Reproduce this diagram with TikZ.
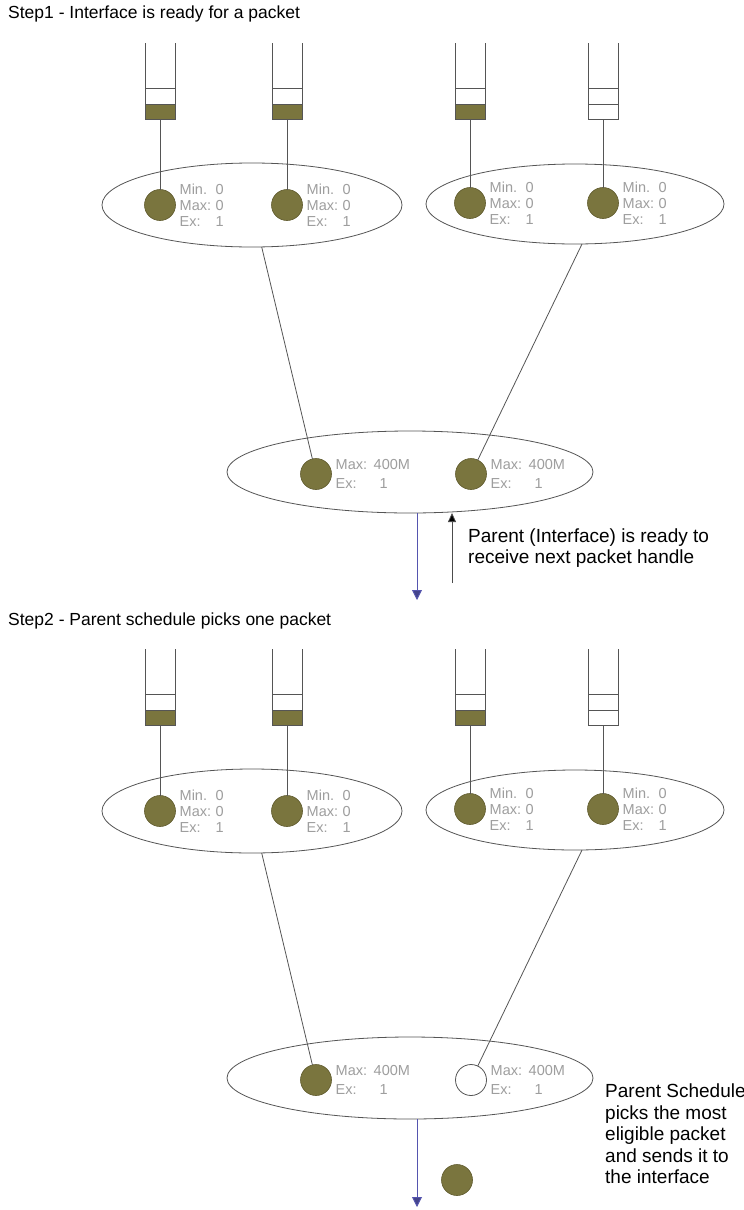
\documentclass[tikz,border=0pt]{standalone}
\usepackage{fontspec}
\setmainfont{Liberation Sans}
\usetikzlibrary{shapes.geometric,arrows.meta}
\definecolor{olivefill}{RGB}{122,117,62}
\definecolor{olivedraw}{RGB}{95,90,45}
\definecolor{linegray}{RGB}{85,85,85}
\definecolor{lblgray}{RGB}{158,158,158}
\definecolor{arrowblue}{RGB}{85,85,175}
\newcommand\lv[3][36pt]{\makebox[#1][l]{#2}#3}
\tikzset{
  line/.style={draw=linegray, line width=0.8pt},
  oval/.style={ellipse, draw=linegray, line width=0.8pt, inner sep=0pt, outer sep=0pt},
  pkt/.style={circle, fill=olivefill, draw=olivedraw, line width=0.6pt, minimum size=31pt, inner sep=0pt, outer sep=0pt},
  emptypkt/.style={circle, fill=white, draw=linegray, line width=0.8pt, minimum size=31pt, inner sep=0pt, outer sep=0pt},
  slotfull/.style={rectangle, fill=olivefill, draw=linegray, line width=0.8pt, minimum width=30pt, minimum height=15pt, inner sep=0pt, outer sep=0pt},
  slotempty/.style={rectangle, fill=white, draw=linegray, line width=0.8pt, minimum width=30pt, minimum height=15pt, inner sep=0pt, outer sep=0pt},
  lbl/.style={anchor=west, inner sep=0pt, text=lblgray, font=\fontsize{14.5}{16}\selectfont, align=left},
  lblb/.style={anchor=west, inner sep=0pt, text=lblgray, font=\fontsize{14.5}{18.5}\selectfont, align=left},
  note/.style={anchor=west, inner sep=0pt, font=\fontsize{19}{21.5}\selectfont, align=left},
  titletext/.style={anchor=west, inner sep=0pt, font=\fontsize{17.5}{20}\selectfont},
  blueflow/.style={draw=arrowblue, line width=0.9pt, -{Triangle[length=10pt,width=10pt,fill=arrowblue!80!black]}},
  readyflow/.style={draw=black!70, line width=0.8pt, -{Triangle[length=9pt,width=8pt,fill=black]}}
}
% #1 prefix, #2 x centre, #3 slot style
\newcommand\drawqueue[3]{%
  \draw[line] (#2-15,43) -- (#2-15,119) -- (#2+15,119) -- (#2+15,43);
  \draw[line] (#2-15,88) -- (#2+15,88);
  \node[#3] (#1) at (#2,111.5) {};
}
% #1 prefix, #2 style of right lower circle
\newcommand\stage[2]{%
  \drawqueue{#1q1}{160}{slotfull}
  \drawqueue{#1q2}{287}{slotfull}
  \drawqueue{#1q3}{470}{slotfull}
  \drawqueue{#1q4}{603}{slotempty}
  \node[oval, minimum width=300pt, minimum height=84pt] (#1eL) at (252,205) {};
  \node[oval, minimum width=298pt, minimum height=80pt] (#1eR) at (575,204) {};
  \node[oval, minimum width=366pt, minimum height=82pt] (#1eB) at (410,472) {};
  \node[pkt] (#1c1) at (160,205) {};
  \node[pkt] (#1c2) at (287,205) {};
  \node[pkt] (#1c3) at (470,203) {};
  \node[pkt] (#1c4) at (603,203) {};
  \node[pkt] (#1d1) at (316,474) {};
  \node[#2] (#1d2) at (471,474) {};
  \foreach \c in {c1,c2,c3,c4}{
    \node[lbl] (#1l\c) at ([xshift=4pt]#1\c.east) {\lv{Min.}{0}\\\lv{Max:}{0}\\\lv{Ex:}{1}};
  }
  \foreach \c in {d1,d2}{
    \node[lblb] (#1l\c) at ([xshift=4pt]#1\c.east) {\lv[38pt]{Max:}{400M}\\\lv[44pt]{Ex:}{1}};
  }
  \draw[line] (#1q1) -- (#1c1);
  \draw[line] (#1q2) -- (#1c2);
  \draw[line] (#1q3) -- (#1c3);
  \draw[line] (#1q4) -- (#1c4);
  \draw[line] (#1eL.-77) -- (#1d1);
  \draw[line] (#1eR.-80) -- (#1d2);
}
\begin{document}
\begin{tikzpicture}[x=1pt,y=-1pt]
\useasboundingbox[fill=white] (0,0) rectangle (744,1210);
% ---------------- Step 1 ----------------
\node[titletext] (title1) at (8,14) {Step1 - Interface is ready for a packet};
\stage{a}{pkt}
\coordinate (aout) at (417,600);
\draw[blueflow] (aeB.south -| aout) -- (aout);
\coordinate (aready) at (452,583);
\draw[readyflow] (aready) -- (aready |- aeB.south);
\node[note] (anote) at (468,548) {Parent (Interface) is ready to\\receive next packet handle};
% ---------------- Step 2 ----------------
\begin{scope}[shift={(0,606)}]
\node[titletext] (title2) at (8,15) {Step2 - Parent schedule picks one packet};
\stage{b}{emptypkt}
\coordinate (bout) at (417,601);
\draw[blueflow] (beB.south -| bout) -- (bout);
\node[pkt] (bsent) at (457,574) {};
\node[note] (bnote) at (605,528) {Parent Schedule\\picks the most\\eligible packet\\and sends it to\\the interface};
\end{scope}
\end{tikzpicture}
\end{document}
